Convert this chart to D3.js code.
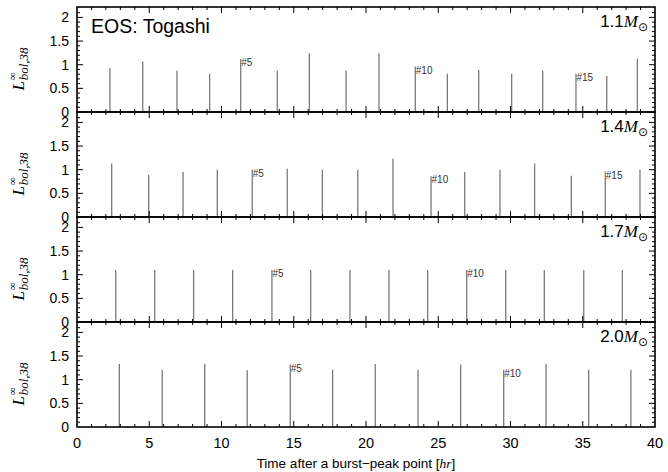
<!DOCTYPE html>
<html>
<head>
<meta charset="utf-8">
<script src="https://cdn.jsdelivr.net/npm/d3@7"></script>
<style>
  body { margin: 0; background: #fff; }
  svg text { font-family: "Liberation Sans", Arial, sans-serif; }
</style>
</head>
<body>
<div class="chart"></div>
<script>
// DATA //
var masses = ['1.1', '1.4', '1.7', '2.0'];

var times11 = [2.28, 4.55, 6.92, 9.18, 11.33, 13.86, 16.08, 18.62, 20.90, 23.41, 25.63, 27.80, 30.08, 32.23, 34.53, 36.66, 38.78];
var peaks11 = [0.93, 1.07, 0.87, 0.81, 1.12, 0.88, 1.24, 0.88, 1.24, 0.96, 0.81, 0.89, 0.81, 0.88, 0.81, 0.76, 1.13];

var times14 = [2.40, 4.96, 7.34, 9.71, 12.13, 14.55, 16.98, 19.43, 21.87, 24.50, 26.83, 29.27, 31.67, 34.21, 36.56, 38.96];
var peaks14 = [1.13, 0.89, 0.95, 1.00, 1.00, 1.02, 1.00, 1.00, 1.23, 0.86, 0.95, 1.00, 1.13, 0.87, 0.96, 1.00];

var times17 = [2.68, 5.38, 8.07, 10.77, 13.49, 16.17, 18.89, 21.59, 24.27, 26.97, 29.67, 32.34, 35.07, 37.74];
var peaks17 = [1.10, 1.10, 1.10, 1.10, 1.10, 1.10, 1.10, 1.10, 1.10, 1.10, 1.10, 1.10, 1.10, 1.10];

var times20 = [2.93, 5.90, 8.84, 11.78, 14.76, 17.69, 20.64, 23.60, 26.55, 29.53, 32.46, 35.41, 38.33];
var peaks20 = [1.33, 1.21, 1.33, 1.20, 1.32, 1.21, 1.33, 1.21, 1.32, 1.21, 1.33, 1.21, 1.21];

var allTimes = [times11, times14, times17, times20];
var allPeaks = [peaks11, peaks14, peaks17, peaks20];
var labelled = [5, 10, 15];   // burst numbers that get a "#N" label
var yTicks = [0, 0.5, 1, 1.5, 2];
var xTicks = [0, 5, 10, 15, 20, 25, 30, 35, 40];

// LAYOUT //
var W = 668, H = 472,
    left = 77, right = 655,
    top0 = 7, panelH = 105;

var serif = '"Liberation Serif", "Times New Roman", serif';

var svg = d3.select('.chart').append('svg')
    .attr('width', W)
    .attr('height', H);

var x = d3.scaleLinear().domain([0, 40]).range([left, right]);

masses.forEach(function(m, i) {
    var top = top0 + i * panelH,
        bottom = top + panelH;
    var y = d3.scaleLinear().domain([0, 2.22]).range([bottom, top]);
    var g = svg.append('g').attr('class', 'panel');

    // bursts
    var times = allTimes[i], peaks = allPeaks[i];
    g.selectAll('line.burst')
        .data(times)
        .enter().append('line')
        .attr('class', 'burst')
        .attr('x1', function(d) { return x(d); })
        .attr('x2', function(d) { return x(d); })
        .attr('y1', y(0))
        .attr('y2', function(d, j) { return y(peaks[j]); })
        .attr('stroke', '#7a7a7a')
        .attr('stroke-width', 1.3);

    // #N labels
    labelled.forEach(function(n) {
        if (n > times.length) return;
        g.append('text')
            .attr('x', x(times[n - 1]) + 0.5)
            .attr('y', y(peaks[n - 1]) + 7)
            .attr('font-size', 10)
            .attr('fill', '#333')
            .text('#' + n);
    });

    // minor / major ticks, all inward on four sides
    var xMinor = d3.range(1, 40).filter(function(v) { return v % 5 !== 0; });
    var yMinor = d3.range(1, 22).map(function(v) { return v / 10; }).filter(function(v) { return Math.round(v * 10) % 5 !== 0; });

    var ax = g.append('g').attr('stroke', '#000').attr('stroke-width', 1);
    xMinor.forEach(function(v) {
        ax.append('line').attr('x1', x(v)).attr('x2', x(v)).attr('y1', bottom).attr('y2', bottom - 3);
        ax.append('line').attr('x1', x(v)).attr('x2', x(v)).attr('y1', top).attr('y2', top + 3);
    });
    xTicks.slice(1, -1).forEach(function(v) {
        ax.append('line').attr('x1', x(v)).attr('x2', x(v)).attr('y1', bottom).attr('y2', bottom - 6);
        ax.append('line').attr('x1', x(v)).attr('x2', x(v)).attr('y1', top).attr('y2', top + 6);
    });
    yMinor.forEach(function(v) {
        ax.append('line').attr('x1', left).attr('x2', left + 3).attr('y1', y(v)).attr('y2', y(v));
        ax.append('line').attr('x1', right).attr('x2', right - 3).attr('y1', y(v)).attr('y2', y(v));
    });
    yTicks.slice(1).forEach(function(v) {
        ax.append('line').attr('x1', left).attr('x2', left + 6).attr('y1', y(v)).attr('y2', y(v));
        ax.append('line').attr('x1', right).attr('x2', right - 6).attr('y1', y(v)).attr('y2', y(v));
    });

    // y tick labels
    g.selectAll('text.ytick')
        .data(yTicks)
        .enter().append('text')
        .attr('class', 'ytick')
        .attr('x', left - 8)
        .attr('y', function(d) { return y(d) + 5; })
        .attr('text-anchor', 'end')
        .attr('font-size', 14)
        .text(function(d) { return d; });

    // frame
    g.append('rect')
        .attr('x', left).attr('y', top)
        .attr('width', right - left).attr('height', panelH)
        .attr('fill', 'none')
        .attr('stroke', '#000')
        .attr('stroke-width', 1.6);

    // mass label
    var ml = g.append('text')
        .attr('x', 648)
        .attr('y', top + 20)
        .attr('text-anchor', 'end')
        .attr('font-size', 17);
    ml.append('tspan').text(m);
    ml.append('tspan').style('font-family', serif).attr('font-style', 'italic').text('M');
    ml.append('tspan').attr('font-size', 12).attr('dy', 4).style('font-family', '"DejaVu Sans", sans-serif').text('\u2299');

    // y axis label: L, superscript infinity, subscript bol,38 stacked under it
    var yl = g.append('text')
        .attr('transform', 'translate(24,' + (top + 62) + ') rotate(-90)')
        .attr('text-anchor', 'middle')
        .style('font-family', serif)
        .attr('font-style', 'italic')
        .attr('font-size', 17);
    yl.append('tspan').text('L');
    yl.append('tspan').attr('font-size', 11).attr('font-style', 'normal').attr('dx', 1).attr('dy', -8).text('\u221e');
    yl.append('tspan').attr('font-size', 13).attr('dx', -8).attr('dy', 12).text('bol,38');
});

// EOS label
svg.append('text')
    .attr('x', 91)
    .attr('y', 33)
    .attr('font-size', 19.5)
    .text('EOS: Togashi');

// x tick labels
svg.selectAll('text.xtick')
    .data(xTicks)
    .enter().append('text')
    .attr('class', 'xtick')
    .attr('x', function(d) { return x(d); })
    .attr('y', 448)
    .attr('text-anchor', 'middle')
    .attr('font-size', 14.5)
    .text(function(d) { return d; });

// x axis title
var xt = svg.append('text')
    .attr('x', 356)
    .attr('y', 468)
    .attr('text-anchor', 'middle')
    .attr('font-size', 13.5);
xt.append('tspan').text('Time after a burst\u2212peak point [');
xt.append('tspan').style('font-family', serif).attr('font-style', 'italic').text('hr');
xt.append('tspan').text(']');
</script>
</body>
</html>
